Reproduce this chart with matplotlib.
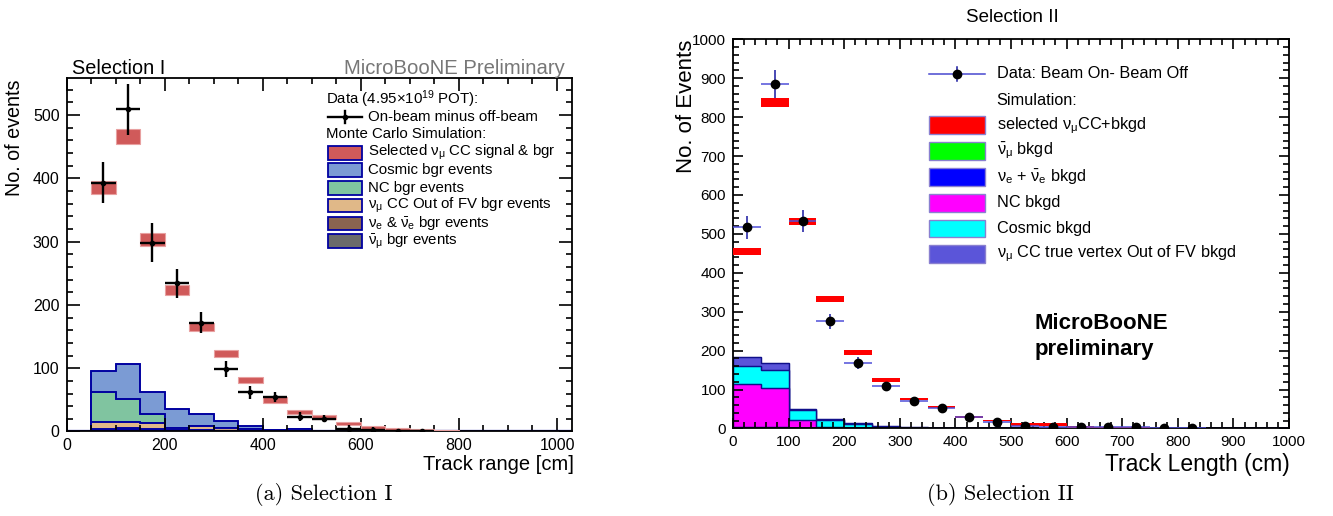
import numpy as np
import matplotlib
matplotlib.use('Agg')
import matplotlib.pyplot as plt
from matplotlib.patches import Rectangle
from matplotlib.lines import Line2D
from matplotlib.ticker import MultipleLocator

plt.rcParams['font.family'] = ['Liberation Sans', 'DejaVu Sans']
plt.rcParams['mathtext.fontset'] = 'custom'
plt.rcParams['mathtext.rm'] = 'Liberation Sans'
plt.rcParams['mathtext.it'] = 'Liberation Sans:italic'
plt.rcParams['mathtext.bf'] = 'Liberation Sans:bold'

#*---------- ----------
#*    Selection I (track range, 50 cm bins from 50 cm)
#*---------- ----------
edges_1 = np.arange(50, 801, 50)
anti_1 = [1.5, 2.5, 2, 1, 0.6, 0.4, 0.3, 0.2, 0.1, 0.1, 0, 0, 0, 0, 0]
nue_1 = [3, 3.5, 2.5, 1.5, 1, 0.6, 0.4, 0.3, 0.2, 0.1, 0.1, 0, 0, 0, 0]
oofv_1 = [10.5, 9, 9.5, 2.5, 7, 4, 3.3, 1, 3.2, 0.6, 0.5, 0.4, 0.2, 0.2, 0.1]
nc_1 = [47, 35.6, 13, 0.5, 0.5, 0.2, 0.1, 0.1, 0.1, 0.1, 0, 0, 0, 0, 0]
cosmic_1 = [33.5, 55.4, 35, 29.5, 17.9, 10.8, 4.3, 0.9, 0.9, 0.3, 0.4, 0.2, 0.2, 0, 0]
mc_tot_1 = [385, 466, 303, 223, 165, 123, 81, 50, 31, 23, 13, 5.8, 3, 2, 1.5]
mc_err_1 = [10, 12, 10, 8, 7, 6, 5, 4.5, 3.5, 3, 2.7, 2.6, 2, 1.5, 1.2]
data_1 = [393, 509, 298, 234, 172, 99, 62, 54, 23, 20.5, 4, 3, 1, 1]
data_err_1 = [32, 40, 31, 23, 17, 13, 10, 8, 7, 6, 7, 4, 2, 2]

#*---------- ----------
#*    Selection II (track length, 50 cm bins from 0)
#*---------- ----------
edges_2 = np.arange(0, 1001, 50)
anti_2 = [0.3, 0.3, 0.2, 0.1, 0.05, 0, 0, 0, 0, 0, 0, 0, 0, 0, 0, 0, 0, 0, 0, 0]
nue_2 = [2.7, 3.7, 0.8, 0.4, 0.2, 0.1, 0.1, 0, 0, 0, 0, 0, 0, 0, 0, 0, 0, 0, 0, 0]
nc_2 = [111, 99, 21, 4.5, 2.2, 1.4, 0.3, 0.3, 0.1, 0.1, 0, 0, 0, 0, 0, 0, 0, 0, 0, 0]
cosmic_2 = [47.5, 46.5, 26, 17, 8.5, 3.5, 2, 0.7, 0.5, 0.4, 0.3, 0.3, 0.2, 0.2, 0.1, 0.1, 0, 0, 0, 0]
oofv_2 = [22.5, 17.5, 2, 3, 2, 2, 1, 0.5, 0.4, 0.5, 0.2, 0.2, 0.1, 0.1, 0.1, 0.1, 0.1, 0, 0, 0]
mc_tot_2 = [455, 838, 532, 332, 196, 124, 76, 54, 29, 21, 10, 10, 4, 2.5, 2, 1.5, 1, 0.5, 0, 0]
mc_err_2 = [8, 12, 10, 8, 6, 5, 3.5, 2.5, 2, 2, 3, 3, 1.5, 1, 1, 0.8, 0.5, 0.3, 0, 0]
data_2 = [517, 885, 533, 275, 168, 108, 71, 52.6, 29, 16.5, 6, 5, 3.5, 4, 4, 0, 1]
data_err_2 = [30, 36, 29, 20, 15, 12, 9, 7, 6, 5, 3, 3, 3, 3, 3, 2, 2]


def centers(edges, n):
  return (edges[:-1] + np.diff(edges) / 2)[:n]


def draw_stack(ax, edges, layers, colors, ecol, lw):
  # ROOT-like stack: every cumulative histogram filled from zero, top layer first
  cum = np.cumsum(np.array(layers, dtype=float), axis=0)
  for vals, col in reversed(list(zip(cum, colors))):
    ax.stairs(vals, edges, baseline=0, fill=True, facecolor=col,
              edgecolor=ecol, linewidth=lw)
    ax.stairs(vals, edges, baseline=0, fill=False, color=ecol, linewidth=lw)


def style_axes(ax, xmaj, xmin, ymaj, ymin, lmaj, lmin, lab):
  ax.xaxis.set_major_locator(MultipleLocator(xmaj))
  ax.xaxis.set_minor_locator(MultipleLocator(xmin))
  ax.yaxis.set_major_locator(MultipleLocator(ymaj))
  ax.yaxis.set_minor_locator(MultipleLocator(ymin))
  ax.tick_params(which='both', direction='in', top=True, right=True, width=1.2,
                 labelsize=lab, pad=5)
  ax.tick_params(which='major', length=lmaj)
  ax.tick_params(which='minor', length=lmin)
  for s in ax.spines.values():
    s.set_linewidth(1.3)


fig = plt.figure(figsize=(13.33, 5.16), dpi=100)

#*---------- ----------
#*    left panel
#*---------- ----------
ax1 = fig.add_axes([0.0499, 0.1638, 0.3790, 0.6845])
navy1 = '#0000a0'
cols_1 = ['#6a6a6a', '#8a6450', '#e0b888', '#80c4a0', '#7b9bd4']
draw_stack(ax1, edges_1, [anti_1, nue_1, oofv_1, nc_1, cosmic_1], cols_1, navy1, 1.2)
ax1.axhline(0, color=navy1, lw=1.6)

x1 = centers(edges_1, len(mc_tot_1))
ax1.bar(x1, 2 * np.array(mc_err_1), bottom=np.array(mc_tot_1) - np.array(mc_err_1),
        width=50, color='#d05a5a', edgecolor='#e8a0a0', linewidth=0.8, zorder=3)
ax1.errorbar(centers(edges_1, len(data_1)), data_1, yerr=data_err_1, xerr=25,
             fmt='o', color='black', ms=3, elinewidth=1.7, capsize=0, zorder=4)

ax1.set_xlim(0, 1030)
ax1.set_ylim(0, 558)
style_axes(ax1, 200, 50, 100, 20, 9.5, 4.5, 11.5)

t1 = ax1.transAxes
fs1 = 10.8
ax1.text(0.514, 0.941, r'Data (4.95$\times$10$^{19}$ POT):', transform=t1,
         fontsize=fs1, va='center')
ax1.add_line(Line2D([0.518, 0.585], [0.890, 0.890], transform=t1, color='black', lw=1.7))
ax1.add_line(Line2D([0.5515, 0.5515], [0.872, 0.908], transform=t1, color='black', lw=1.7))
ax1.plot([0.5515], [0.890], 'o', color='black', ms=3, transform=t1)
ax1.text(0.597, 0.890, 'On-beam minus off-beam', transform=t1, fontsize=fs1, va='center')
ax1.text(0.514, 0.842, 'Monte Carlo Simulation:', transform=t1, fontsize=fs1, va='center')

leg_1 = [r'Selected $\mathrm{\nu_{\mu}}$ CC signal & bgr', 'Cosmic bgr events',
         'NC bgr events', r'$\mathrm{\nu_{\mu}}$ CC Out of FV bgr events',
         r'$\mathrm{\nu_{e}}$ & $\mathrm{\bar{\nu}_{e}}$ bgr events',
         r'$\mathrm{\bar{\nu}_{\mu}}$ bgr events']
leg_cols_1 = ['#d05a5a', '#7b9bd4', '#80c4a0', '#e0b888', '#8a6450', '#6a6a6a']
rows_1 = [0.789, 0.740, 0.689, 0.640, 0.589, 0.539]
for lab, col, fy in zip(leg_1, leg_cols_1, rows_1):
  ax1.add_patch(Rectangle((0.518, fy - 0.019), 0.066, 0.038, transform=t1,
                          facecolor=col, edgecolor=navy1, lw=1.3))
  ax1.text(0.597, fy, lab, transform=t1, fontsize=fs1, va='center')

fig.text(72 / 1333, 1 - 68 / 516, 'Selection I', fontsize=14.3, va='center', ha='left')
fig.text(565 / 1333, 1 - 68 / 516, 'MicroBooNE Preliminary', fontsize=14.6,
         va='center', ha='right', color='#777777')
fig.text(15 / 1333, 1 - 79 / 516, 'No. of events', fontsize=14.2, rotation=90,
         ha='center', va='top')
fig.text(574 / 1333, 1 - 465 / 516, 'Track range [cm]', fontsize=14.5,
         ha='right', va='center')
fig.text(324 / 1333, 1 - 495 / 516, '(a) Selection I', fontsize=16,
         ha='center', va='center', family='cmr10')

#*---------- ----------
#*    right panel
#*---------- ----------
ax2 = fig.add_axes([0.5499, 0.1696, 0.4171, 0.7542])
navy2 = '#10108a'
cols_2 = ['#00ff00', '#0000ff', '#ff00ff', '#00ffff', '#5b55d9']
draw_stack(ax2, edges_2, [anti_2, nue_2, nc_2, cosmic_2, oofv_2], cols_2, navy2, 0.9)
ax2.axhline(0, color=navy2, lw=1.2)

x2 = centers(edges_2, len(mc_tot_2))
ax2.bar(x2, 2 * np.array(mc_err_2), bottom=np.array(mc_tot_2) - np.array(mc_err_2),
        width=50, color='#ff0000', linewidth=0, zorder=3)
xd2 = centers(edges_2, len(data_2))
ax2.errorbar(xd2, data_2, xerr=25, fmt='none', ecolor='#5050d8', elinewidth=1.1,
             capsize=0, zorder=4)
ax2.errorbar(xd2, data_2, yerr=data_err_2, fmt='o', color='black', ms=6,
             ecolor='#1818a0', elinewidth=1.1, capsize=0, zorder=5)

ax2.set_xlim(0, 1000)
ax2.set_ylim(0, 1000)
style_axes(ax2, 100, 20, 100, 20, 7.5, 4, 11)

t2 = ax2.transAxes
fs2 = 11.7
ax2.add_line(Line2D([0.352, 0.453], [0.911, 0.911], transform=t2, color='#4848d0', lw=1.1))
ax2.add_line(Line2D([0.4025, 0.4025], [0.892, 0.930], transform=t2, color='#1818a0', lw=1.1))
ax2.plot([0.4025], [0.911], 'o', color='black', ms=6, transform=t2)
ax2.text(0.474, 0.911, 'Data: Beam On- Beam Off', transform=t2, fontsize=fs2, va='center')
ax2.text(0.474, 0.844, 'Simulation:', transform=t2, fontsize=fs2, va='center')

leg_2 = [r'selected $\mathrm{\nu_{\mu}}$CC+bkgd', r'$\mathrm{\bar{\nu}_{\mu}}$ bkgd',
         r'$\mathrm{\nu_{e}}$ + $\mathrm{\bar{\nu}_{e}}$ bkgd', 'NC bkgd', 'Cosmic bkgd',
         r'$\mathrm{\nu_{\mu}}$ CC true vertex Out of FV bkgd']
leg_cols_2 = ['#ff0000', '#00ff00', '#0000ff', '#ff00ff', '#00ffff', '#5b55d9']
rows_2 = [0.779, 0.713, 0.646, 0.580, 0.514, 0.448]
for lab, col, fy in zip(leg_2, leg_cols_2, rows_2):
  ax2.add_patch(Rectangle((0.352, fy - 0.0227), 0.101, 0.0455, transform=t2,
                          facecolor=col, edgecolor='#8a80d0', lw=1))
  ax2.text(0.474, fy, lab, transform=t2, fontsize=fs2, va='center')

ax2.text(0.543, 0.270, 'MicroBooNE', transform=t2, fontsize=16, weight='bold', va='center')
ax2.text(0.543, 0.204, 'preliminary', transform=t2, fontsize=16, weight='bold', va='center')

fig.text(1012 / 1333, 1 - 18 / 516, 'Selection II', fontsize=13.5, ha='center', va='center')
fig.text(686 / 1333, 1 - 40 / 516, 'No. of Events', fontsize=16, rotation=90,
         ha='center', va='top')
fig.text(1290 / 1333, 1 - 465 / 516, 'Track Length (cm)', fontsize=16.5,
         ha='right', va='center')
fig.text(1000 / 1333, 1 - 495 / 516, '(b) Selection II', fontsize=16,
         ha='center', va='center', family='cmr10')

fig.savefig('out.png', dpi=100)
